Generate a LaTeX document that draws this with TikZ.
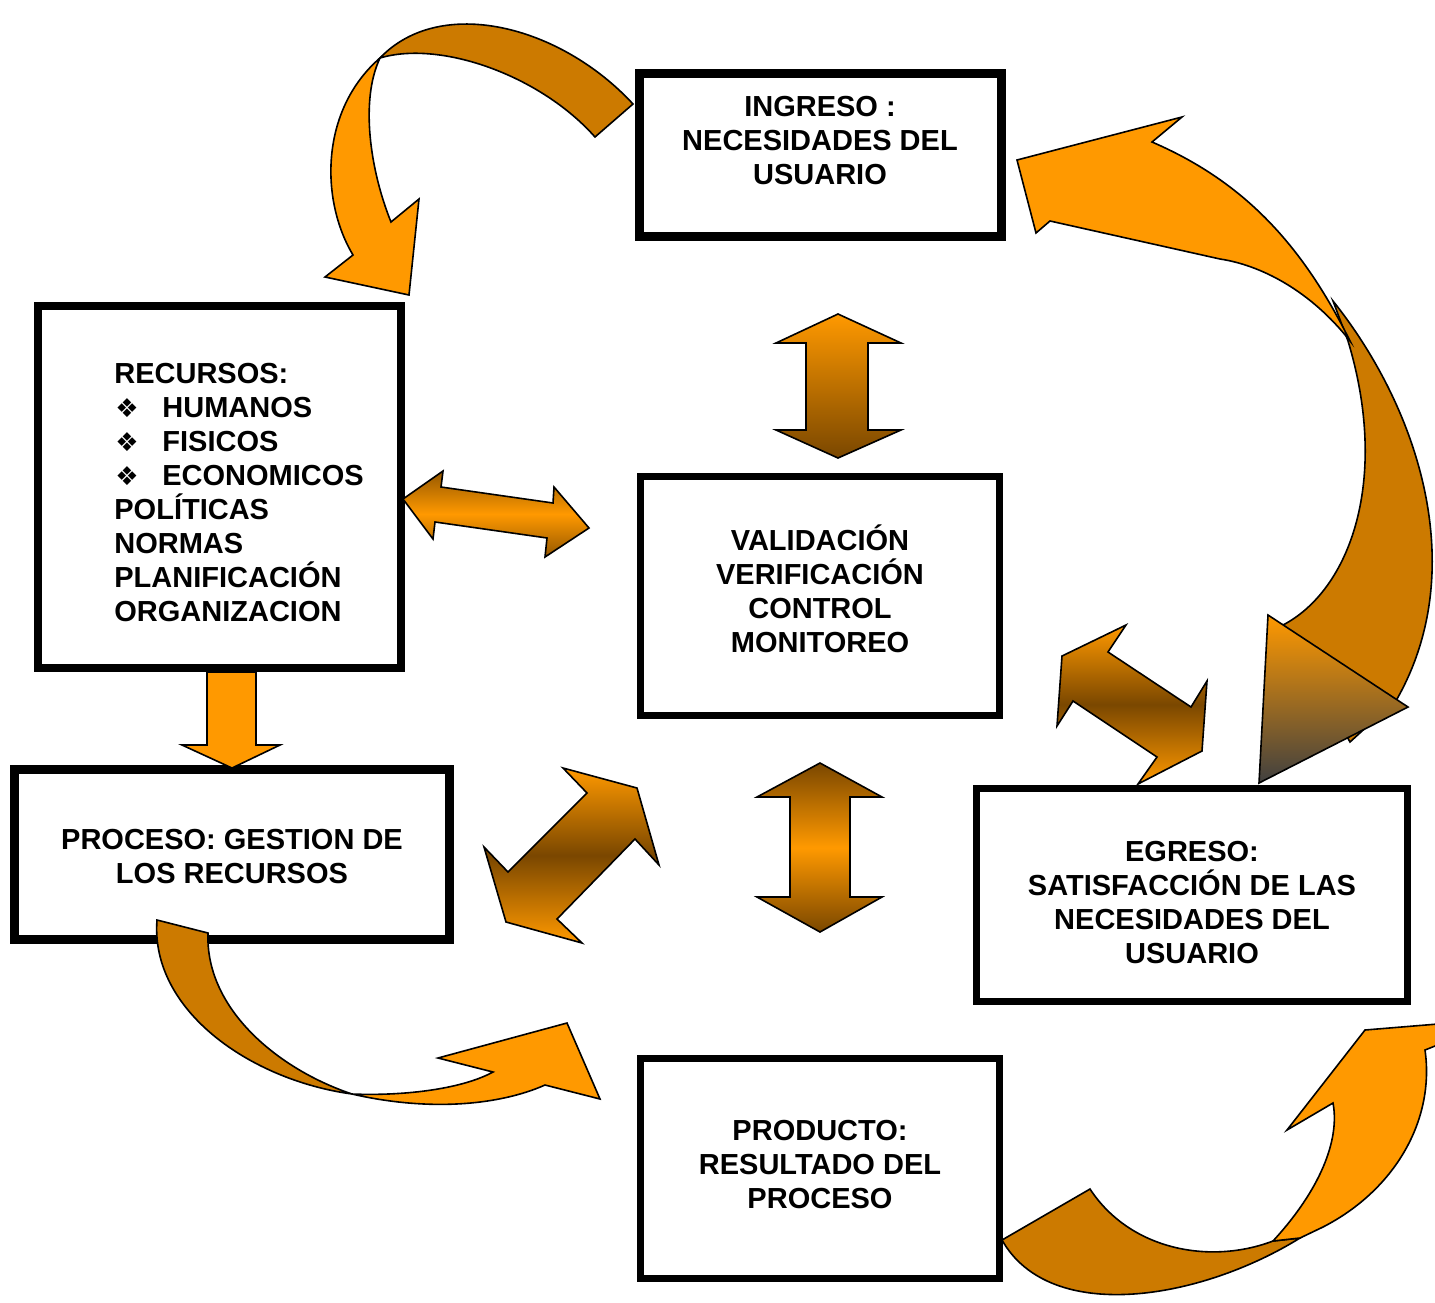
\documentclass[tikz,border=0pt]{standalone}
\usepackage{fontspec}
\setmainfont{Liberation Sans}
\newfontfamily\dejfont{DejaVu Sans}
\definecolor{orng}{HTML}{FF9900}
\definecolor{brwn}{HTML}{CC7A00}
\definecolor{dbrwn}{HTML}{7A4700}
\definecolor{dgrey}{HTML}{404040}
\tikzset{
  boxnode/.style={draw=black, fill=white, inner sep=0pt},
  txt/.style={font=\bfseries\fontsize{14.5}{17}\selectfont, align=center, inner sep=0pt},
  arr/.style={draw=black, line width=0.8pt, line join=miter},
}
\newcommand{\bul}[1]{\makebox[24pt][l]{\hspace{0.5pt}{\dejfont\fontsize{13}{17}\selectfont ❖}}#1}
\begin{document}
\begin{tikzpicture}[x=0.5pt,y=-0.5pt]
\useasboundingbox (0,0) rectangle (1435,1302);
\clip (0,0) rectangle (1435,1302);
\fill[white] (0,0) rectangle (1435,1302);

% boxes
\node[boxnode, line width=4.5pt, minimum width=181pt, minimum height=81.5pt] (ing) at (820,154.5) {};
\node[boxnode, line width=4pt, minimum width=181.5pt, minimum height=181pt] (rec) at (219.5,487) {};
\node[boxnode, line width=3.5pt, minimum width=179.5pt, minimum height=119.5pt] (val) at (819.5,595.5) {};
\node[boxnode, line width=4.5pt, minimum width=217.5pt, minimum height=85pt] (pro) at (231.5,854) {};
\node[boxnode, line width=3.5pt, minimum width=215.5pt, minimum height=106.5pt] (egr) at (1191.5,894.5) {};
\node[boxnode, line width=3.5pt, minimum width=179.5pt, minimum height=110pt] (prd) at (819.5,1168) {};

% texts
\node[txt] (ting) at (820,141) {INGRESO :\\NECESIDADES DEL\\USUARIO};
\node[txt, align=left, anchor=west] (trec) at (114,492.5) {RECURSOS:\\\bul{HUMANOS}\\\bul{FISICOS}\\\bul{ECONOMICOS}\\POLÍTICAS\\NORMAS\\PLANIFICACIÓN\\ORGANIZACION};
\node[txt] (tval) at (820,588.8) {VALIDACIÓN\\VERIFICACIÓN\\CONTROL\\MONITOREO};
\node[txt] (tpro) at (232,856.5) {PROCESO: GESTION DE\\LOS RECURSOS};
\node[txt] (tegr) at (1192,903) {EGRESO:\\SATISFACCIÓN DE LAS\\NECESIDADES DEL\\USUARIO};
\node[txt] (tprd) at (820,1164.5) {PRODUCTO:\\RESULTADO DEL\\PROCESO};

% top-left curved arrow (ingreso -> recursos)
\filldraw[arr, fill=brwn] (633,104) .. controls (560,25) and (440,-5) .. (380,58)
  .. controls (440,40) and (540,75) .. (595,137) -- cycle;
\filldraw[arr, fill=orng] (380,58) .. controls (320,110) and (320,200) .. (353,255)
  -- (325,277) -- (409,295) -- (419,199) -- (391,222)
  .. controls (370,170) and (360,100) .. (380,58) -- cycle;

% right big curved arrow (egreso -> ingreso)
\filldraw[arr, fill=brwn] (1333,301) .. controls (1420,410) and (1470,570) .. (1397,699)
  -- (1350,742) -- (1283,625)
  .. controls (1350,590) and (1390,480) .. (1348,341) -- cycle;
\filldraw[arr, fill=orng] (1017,160) -- (1182,117) -- (1152,142)
  .. controls (1240,180) and (1300,240) .. (1350,341)
  .. controls (1310,290) and (1260,265) .. (1220,259)
  -- (1050,221) -- (1036,233) -- cycle;
\shadedraw[arr, top color=orng, bottom color=dgrey] (1268,615) -- (1408,707) -- (1259,783) -- cycle;

% bottom-left curved arrow (proceso -> producto)
\filldraw[arr, fill=brwn] (157,920) .. controls (150,1010) and (250,1080) .. (352,1094)
  .. controls (280,1070) and (205,1010) .. (208,933) -- cycle;
\filldraw[arr, fill=orng] (352,1094) .. controls (400,1096) and (460,1090) .. (493,1072)
  -- (438,1058) -- (567,1023) -- (600,1099) -- (545,1085)
  .. controls (500,1105) and (430,1112) .. (352,1094) -- cycle;

% bottom-right curved arrow (producto -> egreso)
\filldraw[arr, fill=brwn] (1002,1240) -- (1090,1189)
  .. controls (1130,1250) and (1210,1265) .. (1273,1241)
  -- (1300,1238)
  .. controls (1200,1300) and (1050,1325) .. (1002,1240) -- cycle;
\filldraw[arr, fill=orng] (1273,1241) .. controls (1320,1190) and (1340,1140) .. (1333,1103)
  -- (1287,1130) -- (1365,1030) -- (1450,1023) -- (1450,1040) -- (1425,1050)
  .. controls (1435,1120) and (1395,1190) .. (1323,1227)
  -- (1300,1238) -- cycle;

% straight double arrows
\shadedraw[arr, top color=orng, bottom color=dbrwn]
  (838,314) -- (901,343) -- (868,343) -- (868,430) -- (901,430) -- (838,458) -- (776,430) -- (806,430) -- (806,343) -- (776,343) -- cycle;
\shadedraw[arr, top color=dbrwn!80!orng, bottom color=dbrwn!80!orng, middle color=orng]
  (403,499) -- (443,471) -- (441,487) -- (553,503) -- (554,487) -- (589,528) -- (545,557) -- (547,538) -- (435,522) -- (433,539) -- cycle;
\shadedraw[arr, top color=orng, bottom color=orng, middle color=dbrwn]
  (563,768) -- (637,788) -- (659,865) -- (635,839) -- (557,919) -- (582,943) -- (506,922) -- (484,847) -- (508,872) -- (587,793) -- cycle;
\shadedraw[arr, top color=dbrwn, bottom color=dbrwn, middle color=orng]
  (820,763) -- (882,797) -- (850,797) -- (850,897) -- (882,897) -- (820,932) -- (757,897) -- (790,897) -- (790,797) -- (757,797) -- cycle;
\shadedraw[arr, top color=orng, bottom color=orng, middle color=dbrwn]
  (1062,656) -- (1126,625) -- (1108,652) -- (1191,707) -- (1207,681) -- (1202,751) -- (1138,784) -- (1157,757) -- (1073,701) -- (1057,726) -- cycle;

% single arrow recursos -> proceso
\filldraw[arr, fill=orng] (207,672) -- (256,672) -- (256,745) -- (280,745) -- (232,768) -- (182,745) -- (207,745) -- cycle;
\end{tikzpicture}
\end{document}
